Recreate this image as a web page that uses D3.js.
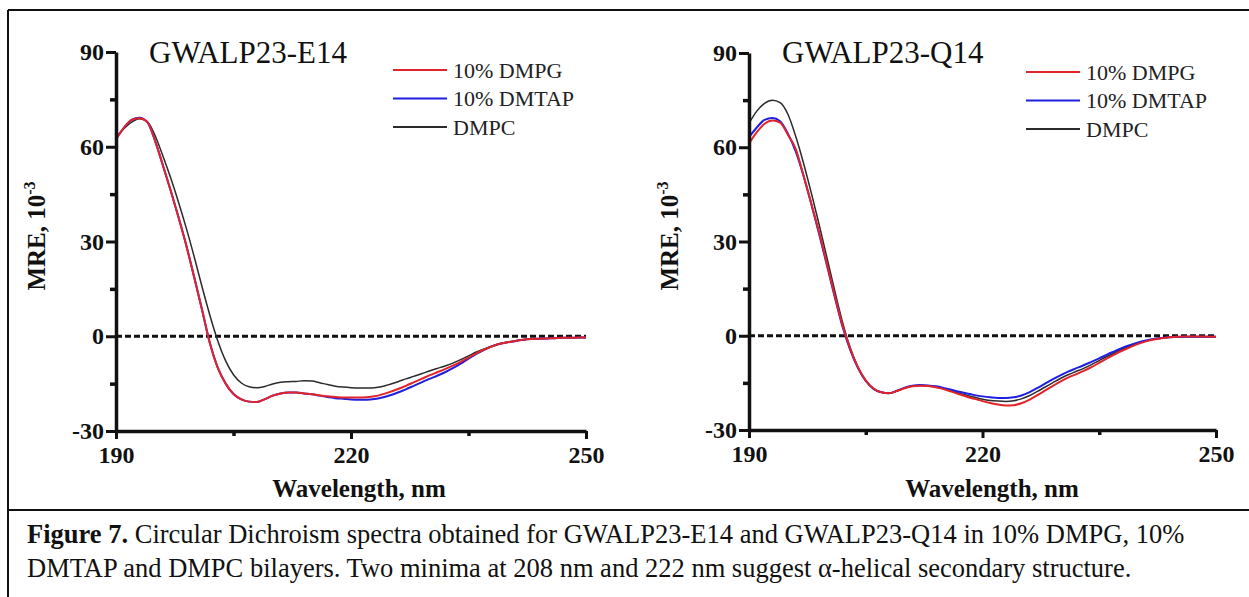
<!DOCTYPE html>
<html>
<head>
<meta charset="utf-8">
<script src="https://cdn.jsdelivr.net/npm/d3@7"></script>
<style>
  body { margin: 0; background: #fff; }
  text { font-family: "Liberation Serif", "Times New Roman", serif; }
</style>
</head>
<body>
<div id="chart"></div>
<script>
// wavelength (nm)
const wavelengths = [190,191,192,193,194,195,196,197,198,199,200,201,202,203,204,205,206,207,208,209,
  210,211,212,213,214,215,216,217,218,219,220,221,222,223,224,225,226,227,228,229,
  230,231,232,233,234,235,236,237,238,239,240,241,242,243,244,245,246,247,248,249,250];

// GWALP23-E14
const e14_dmpg = [62.3,66,68.5,69,67.8,61.8,54,46,37.5,28.5,18.5,8.2,-2.3,-10,-15,-18.3,-20,-20.7,-20.8,-19.9,
  -18.8,-18.1,-17.8,-17.8,-18.1,-18.4,-18.7,-19,-19.2,-19.4,-19.4,-19.4,-19.3,-19,-18.4,-17.6,-16.7,-15.7,-14.6,-13.5,
  -12.4,-11.4,-10.4,-9.3,-8.1,-6.8,-5.4,-4.2,-3.2,-2.4,-1.9,-1.5,-1.1,-0.9,-0.8,-0.7,-0.6,-0.5,-0.5,-0.4,-0.4];
const e14_dmtap = [62.5,66,68.5,69.2,67.8,61.8,54,46,37.5,28.5,18.5,8.2,-2.3,-10,-15,-18.3,-20,-20.7,-20.8,-19.9,
  -18.8,-18.1,-17.8,-17.8,-18.1,-18.4,-18.8,-19.2,-19.6,-19.8,-20,-20.1,-20.1,-19.9,-19.4,-18.7,-17.8,-16.8,-15.7,-14.6,
  -13.5,-12.5,-11.4,-10.1,-8.7,-7.1,-5.6,-4.3,-3.2,-2.4,-1.9,-1.5,-1.1,-0.9,-0.8,-0.7,-0.6,-0.5,-0.5,-0.4,-0.4];
const e14_dmpc = [63,65.7,67.8,68.9,68,63.5,57,50,42.3,34,25,15.5,6.5,-1.5,-7.8,-12.2,-14.8,-16,-16.3,-15.9,
  -15.1,-14.6,-14.4,-14.3,-14.1,-14.2,-14.7,-15.3,-15.8,-16.1,-16.3,-16.4,-16.4,-16.3,-15.9,-15.2,-14.4,-13.5,-12.7,-11.9,
  -11,-10.2,-9.4,-8.5,-7.4,-6.2,-5,-4,-3.1,-2.4,-1.8,-1.4,-1.1,-0.9,-0.8,-0.7,-0.6,-0.5,-0.5,-0.4,-0.4];

// GWALP23-Q14
const q14_dmpg = [61.2,64.8,67.5,68.5,67.8,64,59.5,51,42,33,23,13,3.5,-4,-10,-14.2,-16.8,-18,-18.3,-17.6,
  -16.7,-16.1,-15.9,-16,-16.4,-17,-17.8,-18.6,-19.4,-20.1,-20.8,-21.4,-21.9,-22.2,-22.1,-21.5,-20.4,-19,-17.5,-16,
  -14.6,-13.3,-12.3,-11.2,-10,-8.6,-7.2,-5.9,-4.7,-3.6,-2.6,-1.8,-1.2,-0.8,-0.5,-0.3,-0.2,-0.2,-0.2,-0.3,-0.3];
const q14_dmtap = [63.2,66.3,68.7,69.3,68.3,64.3,58.7,51,42,32.5,22.5,12.5,3,-4.5,-10.3,-14.4,-16.9,-18,-18.3,-17.5,
  -16.5,-15.9,-15.7,-15.8,-16.1,-16.6,-17.2,-17.8,-18.4,-18.9,-19.3,-19.6,-19.8,-19.8,-19.6,-19,-18,-16.7,-15.3,-13.9,
  -12.6,-11.4,-10.4,-9.4,-8.3,-7.2,-6,-4.9,-3.8,-2.9,-2.1,-1.5,-1,-0.7,-0.5,-0.4,-0.3,-0.3,-0.3,-0.3,-0.3];
const q14_dmpc = [67.6,71.5,74,75,74.2,70.5,63.5,55,45.5,35.5,25,14.5,4.5,-3.8,-10,-14.3,-16.9,-18,-18.3,-17.6,
  -16.6,-16,-15.8,-15.9,-16.3,-16.9,-17.6,-18.3,-19,-19.6,-20.2,-20.6,-20.8,-20.9,-20.7,-20.1,-19.1,-17.8,-16.4,-15,
  -13.6,-12.4,-11.4,-10.4,-9.2,-7.9,-6.6,-5.4,-4.2,-3.2,-2.4,-1.7,-1.1,-0.8,-0.5,-0.4,-0.3,-0.3,-0.3,-0.3,-0.3];

const series_names = ["10% DMPG", "10% DMTAP", "DMPC"];
const series_colors = ["#e3232a", "#1f1fe0", "#2b2b2b"];
const series_widths = [2, 2, 1.5];

const x_ticks = [190, 220, 250];
const x_minor = [205, 235];
const y_ticks = [-30, 0, 30, 60, 90];
const y_minor = [-15, 15, 45, 75];

const caption_bold = "Figure 7.";
const caption_line1 = " Circular Dichroism spectra obtained for GWALP23-E14 and GWALP23-Q14 in 10% DMPG, 10%";
const caption_line2 = "DMTAP and DMPC bilayers. Two minima at 208 nm and 222 nm suggest \u03b1-helical secondary structure.";

const W = 1249, H = 597;

const svg = d3.select("#chart").append("svg")
    .attr("width", W)
    .attr("height", H);

svg.append("rect").attr("width", W).attr("height", H).attr("fill", "#fff");

// frame
const frame = svg.append("g").attr("stroke", "#111").attr("stroke-width", 2);
frame.append("line").attr("x1", 8).attr("x2", W).attr("y1", 10).attr("y2", 10);
frame.append("line").attr("x1", 8).attr("x2", 8).attr("y1", 10).attr("y2", H);
frame.append("line").attr("x1", 8).attr("x2", W).attr("y1", 510).attr("y2", 510);

function panel(opt) {
    const x = d3.scaleLinear().domain([190, 250]).range([opt.left, opt.right]);
    const y = d3.scaleLinear().domain([-30, 90]).range([opt.bottom, opt.top]);
    const g = svg.append("g");

    // zero line
    g.append("line")
        .attr("x1", x(190)).attr("x2", x(250))
        .attr("y1", y(0)).attr("y2", y(0))
        .attr("stroke", "#111")
        .attr("stroke-width", 3)
        .attr("stroke-dasharray", "6,3");

    const line = d3.line()
        .x((d, i) => x(wavelengths[i]))
        .y(d => y(d))
        .curve(d3.curveMonotoneX);

    // draw black first, then blue, red on top
    [2, 1, 0].forEach(k => {
        g.append("path")
            .datum(opt.data[k])
            .attr("fill", "none")
            .attr("stroke", series_colors[k])
            .attr("stroke-width", series_widths[k])
            .attr("d", line);
    });

    // minor ticks
    g.append("g")
        .attr("transform", `translate(${opt.left},0)`)
        .call(d3.axisLeft(y).tickValues(y_minor).tickSize(6).tickSizeOuter(0).tickFormat(""))
        .call(a => a.select(".domain").remove())
        .call(a => a.selectAll("line").attr("stroke", "#111").attr("stroke-width", 3.5));
    g.append("g")
        .attr("transform", `translate(0,${opt.bottom})`)
        .call(d3.axisBottom(x).tickValues(x_minor).tickSize(5).tickSizeOuter(0).tickFormat(""))
        .call(a => a.select(".domain").remove())
        .call(a => a.selectAll("line").attr("stroke", "#111").attr("stroke-width", 3.5));

    // Y axis
    g.append("g")
        .attr("transform", `translate(${opt.left},0)`)
        .call(d3.axisLeft(y).tickValues(y_ticks).tickSize(10).tickSizeOuter(0).tickPadding(2)
            .tickFormat(d => String(d)))
        .call(a => a.select(".domain").attr("stroke", "#111").attr("stroke-width", 3.5))
        .call(a => a.selectAll("line").attr("stroke", "#111").attr("stroke-width", 3))
        .call(a => a.selectAll("text")
            .attr("fill", "#111")
            .attr("font-family", "Liberation Serif")
            .attr("font-size", "24px")
            .attr("font-weight", "bold"));

    // X axis
    g.append("g")
        .attr("transform", `translate(0,${opt.bottom})`)
        .call(d3.axisBottom(x).tickValues(x_ticks).tickSize(8).tickSizeOuter(0).tickPadding(7))
        .call(a => a.select(".domain").attr("stroke", "#111").attr("stroke-width", 3.5))
        .call(a => a.selectAll("line").attr("stroke", "#111").attr("stroke-width", 3))
        .call(a => a.selectAll("text")
            .attr("fill", "#111")
            .attr("font-family", "Liberation Serif")
            .attr("font-size", "24px")
            .attr("font-weight", "bold"));

    // axis titles
    g.append("text")
        .attr("x", opt.left + 243)
        .attr("y", 497)
        .attr("text-anchor", "middle")
        .attr("font-size", "25px")
        .attr("font-weight", "bold")
        .attr("fill", "#111")
        .text("Wavelength, nm");

    const yt = g.append("text")
        .attr("transform", `translate(${opt.left - 71},236) rotate(-90)`)
        .attr("text-anchor", "middle")
        .attr("font-size", "25px")
        .attr("font-weight", "bold")
        .attr("fill", "#111");
    yt.append("tspan").text("MRE, 10");
    yt.append("tspan").attr("dy", -10).attr("font-size", "16px").text("-3");

    // panel title
    g.append("text")
        .attr("x", opt.titleX)
        .attr("y", 63)
        .attr("font-size", "31px")
        .attr("fill", "#111")
        .text(opt.title);

    // legend
    series_names.forEach((name, k) => {
        const ly = opt.legendY + k * 28.5;
        g.append("line")
            .attr("x1", opt.legendX).attr("x2", opt.legendX + 54)
            .attr("y1", ly).attr("y2", ly)
            .attr("stroke", series_colors[k])
            .attr("stroke-width", 2);
        g.append("text")
            .attr("x", opt.legendX + 60)
            .attr("y", ly + 7.5)
            .attr("font-size", "22px")
            .attr("fill", "#222")
            .text(name);
    });
}

panel({left: 116, right: 586, top: 52, bottom: 431, title: "GWALP23-E14", titleX: 149,
       legendX: 393, legendY: 70, data: [e14_dmpg, e14_dmtap, e14_dmpc]});
panel({left: 749, right: 1216, top: 53, bottom: 430, title: "GWALP23-Q14", titleX: 782,
       legendX: 1026, legendY: 72, data: [q14_dmpg, q14_dmtap, q14_dmpc]});

// caption
const cap = svg.append("text")
    .attr("x", 27)
    .attr("y", 543)
    .attr("font-size", "26.5px")
    .attr("fill", "#111");
cap.append("tspan").attr("font-weight", "bold").text(caption_bold);
cap.append("tspan").text(caption_line1);
svg.append("text")
    .attr("x", 27)
    .attr("y", 577)
    .attr("font-size", "26.5px")
    .attr("fill", "#111")
    .text(caption_line2);
</script>
</body>
</html>
